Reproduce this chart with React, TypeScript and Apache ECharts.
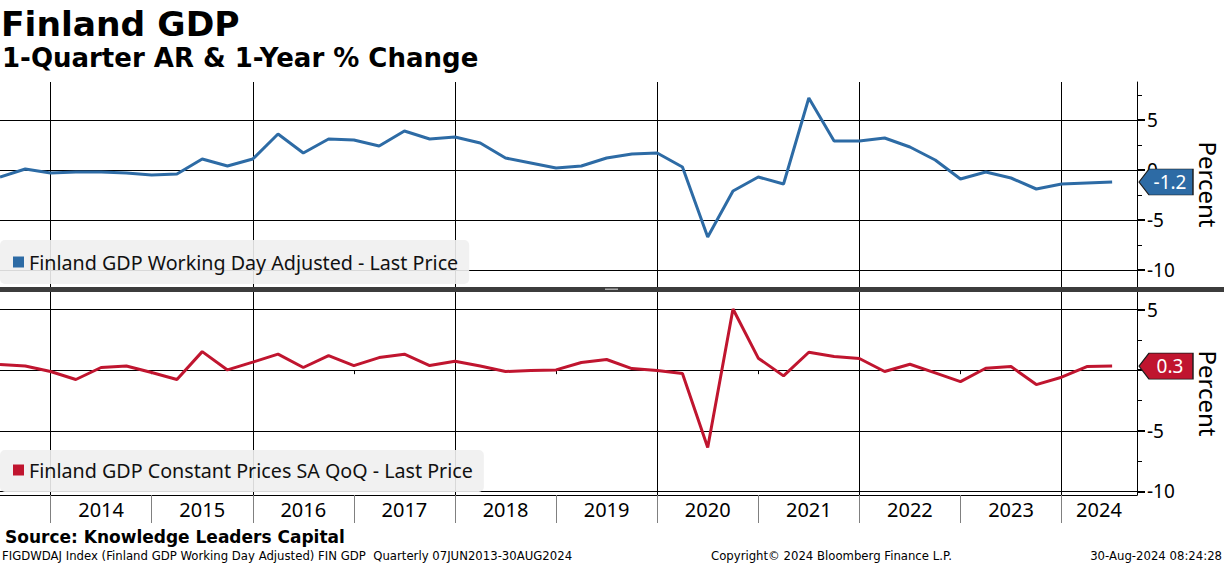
import React, { useEffect, useRef } from "react";
import * as echarts from "echarts";

const quarters = [
  "2013Q2", "2013Q3", "2013Q4",
  "2014Q1", "2014Q2", "2014Q3", "2014Q4",
  "2015Q1", "2015Q2", "2015Q3", "2015Q4",
  "2016Q1", "2016Q2", "2016Q3", "2016Q4",
  "2017Q1", "2017Q2", "2017Q3", "2017Q4",
  "2018Q1", "2018Q2", "2018Q3", "2018Q4",
  "2019Q1", "2019Q2", "2019Q3", "2019Q4",
  "2020Q1", "2020Q2", "2020Q3", "2020Q4",
  "2021Q1", "2021Q2", "2021Q3", "2021Q4",
  "2022Q1", "2022Q2", "2022Q3", "2022Q4",
  "2023Q1", "2023Q2", "2023Q3", "2023Q4",
  "2024Q1", "2024Q2",
];

// Finland GDP Working Day Adjusted (1-year % change)
const yoyValues = [
  -0.7, 0.1, -0.3,
  -0.2, -0.2, -0.3, -0.5,
  -0.4, 1.1, 0.4, 1.1,
  3.6, 1.7, 3.1, 3.0,
  2.4, 3.9, 3.1, 3.3,
  2.7, 1.2, 0.7, 0.2,
  0.4, 1.2, 1.6, 1.7,
  0.3, -6.7, -2.1, -0.7,
  -1.4, 7.2, 2.9, 2.9,
  3.2, 2.3, 1.0, -0.9,
  -0.2, -0.8, -1.9, -1.4,
  -1.3, -1.2,
];

// Finland GDP Constant Prices SA QoQ
const qoqValues = [
  0.46, 0.35, -0.11,
  -0.77, 0.22, 0.35, -0.19,
  -0.77, 1.53, 0.02, 0.66,
  1.32, 0.22, 1.2, 0.38,
  1.04, 1.32, 0.38, 0.74,
  0.35, -0.11, -0.03, 0.02,
  0.63, 0.88, 0.13, -0.03,
  -0.28, -6.38, 5.05, 0.99,
  -0.47, 1.48, 1.12, 0.96,
  -0.11, 0.49, -0.22, -0.94,
  0.16, 0.3, -1.19, -0.58,
  0.3, 0.34,
];

const yearTicks = [2014, 2015, 2016, 2017, 2018, 2019, 2020, 2021, 2022, 2023, 2024];
const gridYears = [2014, 2016, 2018, 2020, 2022, 2024];
const oddYears = [2015, 2017, 2019, 2021, 2023];
const yearLabelPositions = [2014.5, 2015.5, 2016.5, 2017.5, 2018.5, 2019.5, 2020.5, 2021.5, 2022.5, 2023.5, 2024.37];
const majorTicks = [5, 0, -5, -10];
const minorTicks = [7.5, 2.5, -2.5, -7.5];

const X_MIN = 2013.5;
const X_MAX = 2024.746;

const BLUE = "#2d6ba5";
const RED = "#c0152f";
const NAME1 = "Finland GDP Working Day Adjusted - Last Price";
const NAME2 = "Finland GDP Constant Prices SA QoQ - Last Price";
const FONT = "Noto Sans";

function quarterPos(q: string): number {
  return parseInt(q.slice(0, 4), 10) + parseInt(q.slice(5), 10) / 4;
}

function gridMarkLine() {
  return {
    silent: true,
    symbol: "none",
    z: 1,
    label: { show: false },
    lineStyle: { color: "#000", width: 1, type: "solid" },
    emphasis: { disabled: true },
    data: [
      ...gridYears.map((v) => ({ xAxis: v })),
      ...majorTicks.map((v) => ({ yAxis: v })),
    ],
  };
}

function tagMarkPoint(color: string, last: number) {
  return {
    silent: true,
    z: 6,
    symbol: "path://M0,13L10,0L54,0L54,26L10,26Z",
    symbolSize: [54, 26],
    symbolOffset: [29, 0],
    symbolKeepAspect: false,
    itemStyle: { color, borderColor: "#1b1b1b", borderWidth: 1 },
    label: {
      show: true,
      position: "inside",
      color: "#fff",
      fontSize: 19,
      fontFamily: FONT,
      offset: [4, 0],
      formatter: (p: any) => Number(p.value).toFixed(1),
    },
    data: [{ coord: [X_MAX, last], value: last }],
  };
}

function yAxes(gridIndex: number, min: number, max: number) {
  return [
    {
      type: "value",
      gridIndex,
      position: "right",
      min,
      max,
      splitLine: { show: false },
      axisLine: { show: true, lineStyle: { color: "#000", width: 1 } },
      axisTick: { show: true, customValues: majorTicks, length: 8, lineStyle: { color: "#000", width: 2 } },
      axisLabel: { customValues: majorTicks, margin: 10, fontSize: 19, color: "#000", fontFamily: FONT },
      name: "Percent",
      nameLocation: "middle",
      nameRotate: -90,
      nameGap: 59,
      nameTextStyle: { fontSize: 24, lineHeight: 24, color: "#000", fontFamily: FONT },
    },
    {
      type: "value",
      gridIndex,
      position: "right",
      min,
      max,
      splitLine: { show: false },
      axisLine: { show: false },
      axisLabel: { show: false },
      axisTick: { show: true, customValues: minorTicks, length: 5, lineStyle: { color: "#000", width: 1 } },
    },
  ];
}

export default function App() {
  const ref = useRef<HTMLDivElement>(null);

  useEffect(() => {
    document.body.style.margin = "0";
    if (!ref.current) return;
    const chart = echarts.init(ref.current, null, { renderer: "svg" });

    const yoyData = quarters.map((q, i) => [quarterPos(q), yoyValues[i]]);
    const qoqData = quarters.map((q, i) => [quarterPos(q), qoqValues[i]]);

    const smallText = { fontFamily: "DejaVu Sans", fontWeight: "normal", fontSize: 11.7, color: "#000" };

    const option: any = {
      animation: false,
      backgroundColor: "#fff",
      title: [
        { text: "Finland GDP", left: 1, top: 6, padding: 0, textStyle: { fontFamily: "DejaVu Sans", fontWeight: "bold", fontSize: 34.5, color: "#000" } },
        { text: "1-Quarter AR & 1-Year % Change", left: 2, top: 45, padding: 0, textStyle: { fontFamily: "DejaVu Sans", fontWeight: "bold", fontSize: 26, color: "#000" } },
        { text: "Source: Knowledge Leaders Capital", left: 5, top: 528, padding: 0, textStyle: { fontFamily: "DejaVu Sans", fontWeight: "bold", fontSize: 17, color: "#000" } },
        { text: "FIGDWDAJ Index (Finland GDP Working Day Adjusted) FIN GDP  Quarterly 07JUN2013-30AUG2024", left: 2, top: 550, padding: 0, textStyle: smallText },
        { text: "Copyright\u00A9 2024 Bloomberg Finance L.P.", left: 711, top: 550, padding: 0, textStyle: smallText },
        { text: "30-Aug-2024 08:24:28", right: 2, top: 550, padding: 0, textStyle: smallText },
      ],
      legend: [
        {
          data: [NAME1], left: 0, top: 240, selectedMode: false,
          backgroundColor: "rgba(240,240,240,0.9)", borderRadius: 5,
          padding: [12, 11, 12, 13], icon: "rect", itemWidth: 11, itemHeight: 11,
          textStyle: { fontSize: 19.7, color: "#111", fontFamily: FONT },
        },
        {
          data: [NAME2], left: 0, top: 450, selectedMode: false,
          backgroundColor: "rgba(240,240,240,0.9)", borderRadius: 5,
          padding: [10, 11, 12, 13], icon: "rect", itemWidth: 11, itemHeight: 11,
          textStyle: { fontSize: 19.7, color: "#111", fontFamily: FONT },
        },
      ],
      grid: [
        { left: 0, right: 87, top: 82, height: 205, outerBoundsMode: "none", containLabel: false },
        { left: 0, right: 87, top: 292, height: 203, outerBoundsMode: "none", containLabel: false },
      ],
      xAxis: [
        { type: "value", gridIndex: 0, min: X_MIN, max: X_MAX, show: false },
        {
          type: "value", gridIndex: 1, min: X_MIN, max: X_MAX,
          splitLine: { show: false },
          axisLine: { show: true, onZero: false, lineStyle: { color: "#000", width: 1 } },
          axisTick: { show: true, customValues: yearTicks, length: 28, lineStyle: { color: "#808080", width: 1 } },
          axisLabel: {
            customValues: yearLabelPositions, margin: 4, fontSize: 20, color: "#000", fontFamily: FONT,
            formatter: (v: number) => String(Math.floor(v)),
          },
        },
        {
          type: "value", gridIndex: 1, min: X_MIN, max: X_MAX,
          splitLine: { show: false },
          axisLine: { show: false },
          axisLabel: { show: false },
          axisTick: { show: true, inside: true, customValues: oddYears, length: 4, lineStyle: { color: "#000", width: 1 } },
        },
      ],
      yAxis: [...yAxes(0, -11.7, 8.8), ...yAxes(1, -10.3, 6.45)],
      series: [
        {
          name: NAME1, type: "line", xAxisIndex: 0, yAxisIndex: 0, data: yoyData,
          showSymbol: false, symbol: "none", color: BLUE,
          lineStyle: { color: BLUE, width: 3 }, z: 3,
          markLine: gridMarkLine(),
          markPoint: tagMarkPoint(BLUE, yoyValues[yoyValues.length - 1]),
        },
        {
          name: NAME2, type: "line", xAxisIndex: 1, yAxisIndex: 2, data: qoqData,
          showSymbol: false, symbol: "none", color: RED,
          lineStyle: { color: RED, width: 3 }, z: 3,
          markLine: gridMarkLine(),
          markPoint: tagMarkPoint(RED, qoqValues[qoqValues.length - 1]),
        },
      ],
      graphic: [
        { type: "rect", shape: { x: 0, y: 287, width: 1224, height: 5 }, style: { fill: "#3c3c3c" }, z: 10 },
        { type: "rect", shape: { x: 605, y: 288.5, width: 13, height: 1.5 }, style: { fill: "#a8a8a8" }, z: 11 },
      ],
    };

    chart.setOption(option);
    return () => chart.dispose();
  }, []);

  return <div ref={ref} style={{ width: 1224, height: 566 }} />;
}
